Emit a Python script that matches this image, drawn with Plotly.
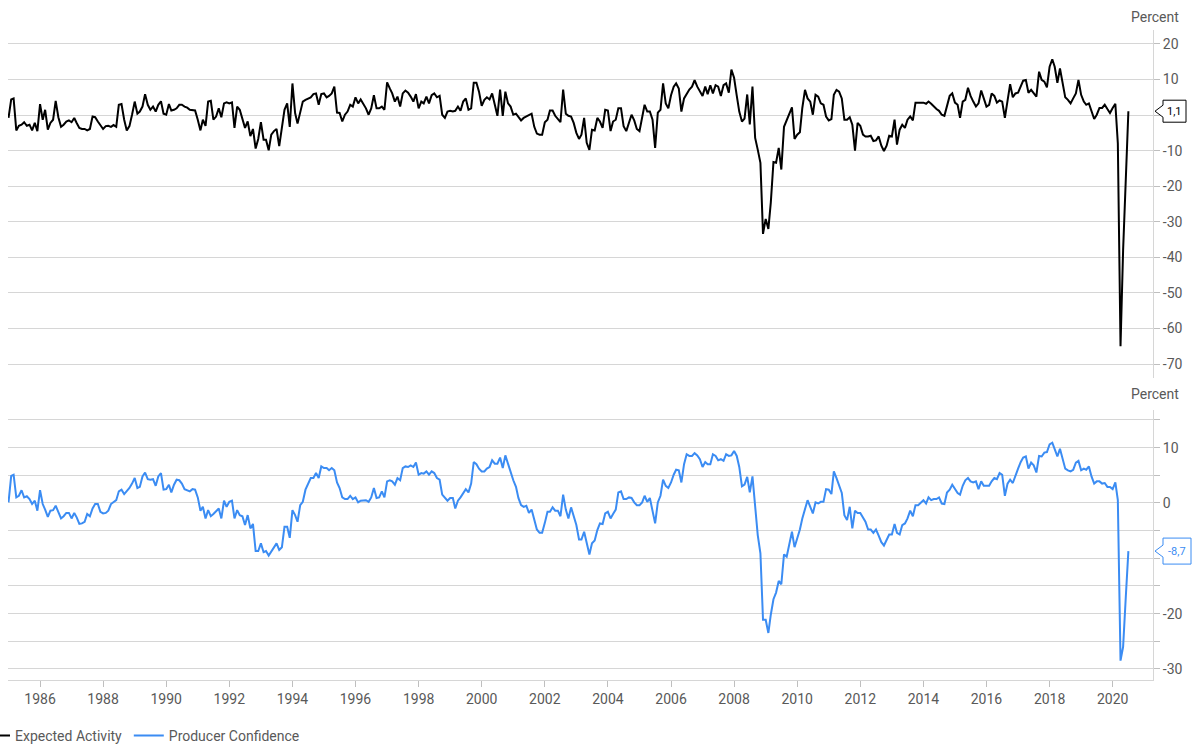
import pandas as pd
import plotly.graph_objects as go

# Monthly observations, Jan 1985 - Jul 2020
start_month = "1985-01-01"

expected_activity = [
    -0.8, 4.4, 4.7, -4.3, -3.0, -2.7, -2.0, -3.0, -2.7, -4.3, -2.2, -4.5,
    3.1, -1.3, 1.5, -4.1, -2.2, -1.3, 4.0, -0.6, -3.3, -2.7, -1.8, -1.5,
    -2.0, -0.8, -2.2, -3.6, -3.9, -3.9, -4.3, -3.9, -0.4, -0.6, -1.8, -3.0,
    -3.9, -3.1, -3.0, -3.3, -2.8, -3.3, 2.9, 3.1, -1.3, -4.3, -3.1, 0.1,
    3.8, 0.4, 1.0, 2.4, 5.9, 2.9, 1.5, 2.4, 1.0, 2.9, 3.9, 0.4,
    0.1, 3.1, 1.3, 1.5, 1.9, 2.9, 2.9, 2.4, 2.1, 1.5, 1.3, 1.3,
    -1.3, -4.3, -1.3, -3.0, 3.8, 4.0, -1.3, -0.4, 1.9, -0.6, 3.3, 3.6,
    3.3, 3.6, -3.6, 2.4, 1.5, -0.8, -3.6, -1.8, -5.9, -3.9, -9.4, -6.7,
    -2.0, -6.9, -6.9, -9.9, -5.5, -4.5, -3.9, -8.7, -3.3, 1.5, 3.3, -3.3,
    8.9, 0.6, -2.4, 0.6, 3.8, 4.3, 4.7, 5.0, 5.9, 6.1, 2.9, 5.9,
    6.1, 5.0, 5.4, 6.1, 8.0, 0.7, 0.6, -1.8, 0.1, 1.0, 2.9, 2.4,
    5.0, 3.3, 4.4, 3.3, 1.9, 0.1, 1.9, 5.6, 1.9, 1.9, 2.4, 1.5,
    9.2, 7.5, 6.1, 3.8, 5.2, 2.4, 6.1, 6.9, 6.3, 5.2, 3.8, 5.9,
    1.9, 3.8, 3.3, 5.2, 3.3, 5.6, 6.1, 5.0, 5.4, 0.1, -0.8, 1.0,
    1.2, 1.0, 1.2, 2.4, 1.2, 3.8, 4.7, 1.5, 1.9, 9.1, 9.1, 6.6,
    2.6, 4.3, 5.0, 4.4, 6.1, 2.9, -0.2, 7.2, -0.2, 6.6, 3.3, 2.4,
    0.1, 0.4, -0.6, -1.5, -0.8, -0.4, 0.1, 0.4, -3.3, -5.2, -5.5, -5.5,
    -2.0, -1.3, 1.3, 1.3, -0.2, -1.3, -2.0, 7.2, 0.4, -0.2, -0.4, -2.2,
    -5.0, -6.7, -5.5, -0.8, -7.8, -9.8, -4.1, -4.3, -0.8, -1.8, -3.6, 1.5,
    1.3, -4.5, -1.8, -1.3, 1.9, 1.9, -3.1, -4.5, -2.2, 0.1, -1.5, -3.9,
    -4.5, -1.1, 2.9, 1.0, 1.0, -1.3, -9.2, 0.7, 1.5, 8.9, 3.3, 1.9,
    5.6, 8.0, 8.9, 7.5, 1.0, 4.7, 6.1, 7.2, 8.0, 9.8, 8.0, 6.9,
    5.4, 8.0, 5.9, 8.4, 6.1, 8.4, 8.0, 5.4, 8.4, 8.9, 6.3, 12.8,
    10.5, 5.5, 1.0, -1.8, -1.0, 5.8, -2.6, 8.0, -6.4, -9.7, -13.4, -33.4,
    -29.2, -32.0, -24.6, -13.2, -13.4, -9.2, -15.3, -3.3, -1.3, 0.1, 2.2, -6.7,
    -5.5, -4.8, 2.0, 7.1, 4.7, 3.8, 0.1, 5.7, 5.2, 3.3, 2.9, -0.4,
    -1.5, -1.1, 5.7, 7.1, 6.6, 4.7, -1.3, -1.3, -0.6, -2.7, -10.0, -2.2,
    -3.0, -5.5, -6.0, -6.0, -5.8, -7.3, -7.1, -6.0, -8.6, -10.1, -8.6, -5.8,
    -6.0, -1.3, -8.3, -4.1, -2.7, -3.6, -1.3, -0.4, -1.5, 3.5, 3.5, 3.3,
    3.5, 3.2, 3.8, 3.2, 2.4, 1.7, 1.2, 0.1, -0.2, 2.9, 5.4, 6.1,
    3.5, 2.9, -0.8, 3.8, 4.3, 7.7, 5.4, 3.8, 2.4, 3.3, 6.9, 4.7,
    2.4, 2.9, 6.1, 5.4, 3.5, 4.1, 3.8, -0.8, 3.8, 8.7, 5.0, 6.1,
    6.3, 8.0, 9.7, 9.9, 6.3, 7.1, 6.3, 5.2, 12.2, 9.9, 9.4, 7.8,
    13.6, 15.7, 13.6, 9.1, 13.1, 8.9, 5.0, 4.3, 3.3, 4.7, 6.1, 9.9,
    5.7, 3.8, 2.9, 3.3, 1.0, -1.1, 0.1, 2.0, 2.0, 2.9, 1.7, 0.6,
    2.0, 3.2, -8.0, -65.0, -38.0, -16.0, 1.1,
]

producer_confidence = [
    0.1, 4.9, 5.1, 1.0, 1.3, 2.3, 1.0, 1.2, 0.7, -0.2, 0.4, -1.4,
    2.3, -0.2, -1.2, -2.5, -1.4, -1.3, -0.5, -1.6, -2.8, -2.4, -1.8, -1.8,
    -2.8, -1.8, -2.6, -3.8, -3.7, -3.4, -2.0, -2.4, -1.0, -0.2, -0.2, -1.6,
    -1.9, -1.8, -1.4, -0.2, 0.2, 0.5, 2.1, 2.4, 1.6, 2.1, 2.7, 3.5,
    4.5, 2.7, 2.9, 4.8, 5.5, 4.3, 4.2, 4.3, 3.1, 4.8, 5.4, 2.4,
    2.5, 3.3, 1.9, 3.3, 4.2, 4.1, 3.5, 2.5, 2.3, 2.1, 2.5, 2.4,
    1.0, -1.4, -0.7, -2.8, -1.3, -2.4, -2.0, -1.4, -1.0, -2.8, 0.4, -0.7,
    0.2, 0.4, -2.8, -1.3, -2.2, -2.4, -4.0, -2.2, -4.6, -3.8, -8.7, -8.7,
    -7.3, -8.9, -8.7, -9.5, -8.7, -8.0, -7.3, -8.5, -8.0, -4.3, -4.3, -6.3,
    -1.3, -2.2, -3.4, -0.4, 0.2, 2.4, 3.5, 4.5, 4.5, 5.4, 4.5, 6.6,
    6.3, 6.3, 5.9, 6.3, 5.9, 3.7, 2.7, 1.0, 0.7, 0.7, 1.3, 0.7,
    1.0, 0.1, 0.4, 0.5, 0.5, 0.2, 1.0, 2.7, 0.9, 1.0, 2.1, 1.0,
    3.9, 4.1, 3.9, 3.3, 4.5, 4.1, 6.3, 6.6, 6.5, 6.8, 6.5, 7.3,
    5.1, 5.4, 5.3, 5.7, 5.1, 5.7, 5.4, 4.5, 4.2, 1.5, 0.9, 0.4,
    0.9, 0.9, -1.0, 0.4, 1.0, 1.8, 2.5, 1.9, 3.5, 7.4, 7.0, 6.2,
    5.7, 5.7, 6.2, 6.5, 7.7, 7.1, 7.1, 8.2, 6.3, 8.6, 7.0, 5.7,
    4.1, 2.9, 0.9, -0.4, -0.7, -0.5, -1.8, -1.2, -3.2, -4.8, -5.4, -5.4,
    -3.6, -1.6, -1.6, -0.8, -1.4, -1.4, -2.4, 1.5, -1.2, -2.8, -0.8, -2.5,
    -4.0, -6.6, -6.6, -5.2, -7.1, -9.3, -7.3, -6.8, -4.9, -3.7, -3.8, -1.9,
    -1.6, -2.8, -2.0, -1.2, 1.9, 2.1, 0.7, 0.7, 1.0, 0.9, 0.1, -0.4,
    -0.4, 0.1, 1.3, 0.2, 0.9, -1.3, -3.7, 0.1, 1.3, 4.2, 3.1, 2.7,
    3.7, 5.1, 6.0, 5.9, 3.7, 7.0, 8.8, 8.5, 8.5, 9.0, 8.6, 7.9,
    6.5, 7.4, 7.0, 7.0, 8.8, 8.5, 7.7, 7.9, 7.6, 8.8, 8.5, 8.6,
    9.4, 8.5, 6.5, 3.0, 3.3, 4.7, 1.9, 4.8, -0.8, -5.8, -9.1, -21.1,
    -21.1, -23.5, -20.2, -17.4, -16.2, -14.1, -14.7, -9.3, -9.7, -7.3, -5.2, -8.0,
    -6.5, -4.8, -2.8, -1.3, 0.5, -0.7, -1.9, 0.1, -0.1, 0.2, 0.2, 2.5,
    2.4, 1.6, 5.7, 4.5, 3.0, 1.8, -2.2, -3.1, -0.7, -4.6, -1.4, -1.8,
    -1.8, -2.6, -3.4, -4.8, -4.8, -5.4, -4.8, -5.9, -7.1, -7.7, -6.8, -5.7,
    -5.7, -3.8, -5.4, -5.7, -4.0, -3.7, -2.8, -1.4, -2.4, -0.4, -0.4, 0.1,
    0.5, -0.1, 1.0, 0.5, 0.7, 0.7, 1.0, -0.1, -0.2, 1.9, 2.4, 3.3,
    2.5, 1.8, 1.5, 3.1, 4.1, 4.5, 3.9, 3.7, 3.9, 2.5, 3.9, 3.1,
    3.1, 3.1, 3.9, 4.5, 4.3, 5.4, 5.1, 1.3, 3.5, 4.2, 3.6, 5.1,
    6.2, 7.4, 8.2, 8.4, 6.2, 7.3, 6.8, 5.5, 8.5, 8.4, 9.1, 9.2,
    10.6, 10.9, 9.8, 8.4, 9.8, 8.0, 6.2, 5.9, 5.7, 6.0, 7.3, 7.6,
    5.9, 6.2, 6.0, 6.6, 4.8, 3.5, 3.9, 3.9, 3.5, 3.6, 2.9, 2.9,
    2.5, 3.7, 0.5, -28.5, -26.0, -17.0, -8.7,
]

top_ticks = [-70, -60, -50, -40, -30, -20, -10, 0, 10, 20]
top_ticktext = ["-70", "-60", "-50", "-40", "-30", "-20", "-10", "", "10", "20"]
bottom_ticks = [-30, -25, -20, -15, -10, -5, 0, 5, 10, 15]
bottom_ticktext = ["-30", "", "-20", "", "", "", "0", "", "10", ""]
year_ticks = [f"{y}-01-01" for y in range(1986, 2021, 2)]

dates = pd.date_range(start_month, periods=len(expected_activity), freq="MS")

BLUE = "#3b8cf3"
GRID = "#d6d6d6"
TXT = "#595959"
FONT = "Roboto, sans-serif"
FS = 14

# layout geometry (pixels)
W, H = 1192, 745
ML, MR, MT, MB = 8, 39, 30, 65
PW = W - ML - MR
TOP_RANGE = [-73.93, 23.93]
BOT_RANGE = [-32.0, 16.8]
TOP_DOM = [0.4646, 1.0]
BOT_DOM = [0.0, 0.4154]
PH = H - MT - MB

fig = go.Figure()
fig.add_trace(go.Scatter(x=dates, y=expected_activity, name="Expected Activity",
                         mode="lines", line=dict(color="black", width=2),
                         xaxis="x", yaxis="y", hoverinfo="skip", legend="legend"))
fig.add_trace(go.Scatter(x=dates, y=producer_confidence, name="Producer Confidence",
                         mode="lines", line=dict(color=BLUE, width=2),
                         xaxis="x2", yaxis="y2", hoverinfo="skip", legend="legend2"))

xr = ["1984-12-26", "2021-04-12"]
axis_common = dict(side="right", showgrid=True, gridcolor=GRID, gridwidth=1,
                   showline=True, linecolor=GRID, linewidth=1,
                   ticks="outside", ticklen=6, tickcolor="#bfbfbf",
                   zeroline=False, tickfont=dict(family=FONT, size=FS, color=TXT))
legend_common = dict(orientation="h", xanchor="left", y=-0.086, yanchor="middle",
                     font=dict(family=FONT, size=FS, color=TXT),
                     bgcolor="rgba(0,0,0,0)", itemwidth=30)

fig.update_layout(
    width=W, height=H,
    margin=dict(l=ML, r=MR, t=MT, b=MB, autoexpand=False),
    paper_bgcolor="white", plot_bgcolor="white",
    font=dict(family=FONT, size=FS, color=TXT),
    xaxis=dict(domain=[0, 1], range=xr, anchor="y", showticklabels=False,
               showgrid=False, showline=False, ticks="", zeroline=False),
    yaxis=dict(domain=TOP_DOM, range=TOP_RANGE,
               tickvals=top_ticks, ticktext=top_ticktext, **axis_common),
    xaxis2=dict(domain=[0, 1], range=xr, anchor="y2", matches="x",
                tickvals=year_ticks, tickformat="%Y", ticks="outside", ticklen=6,
                tickcolor="#bfbfbf", showline=True, linecolor=GRID, showgrid=False,
                zeroline=False, tickfont=dict(family=FONT, size=FS, color=TXT)),
    yaxis2=dict(domain=BOT_DOM, range=BOT_RANGE,
                tickvals=bottom_ticks, ticktext=bottom_ticktext, **axis_common),
    legend=dict(x=-0.0288, **legend_common),
    legend2=dict(x=0.1055, **legend_common),
    showlegend=True,
)


def px_to_paper_x(px):
    return (px - ML) / PW


def units_per_px(rng, dom):
    return (rng[1] - rng[0]) / ((dom[1] - dom[0]) * PH)


# value callouts on the right axis
callouts = [
    dict(yref="y", val=expected_activity[-1], color="black", left=1163, right=1186,
         half=11, upp=units_per_px(TOP_RANGE, TOP_DOM)),
    dict(yref="y2", val=producer_confidence[-1], color=BLUE, left=1163, right=1191,
         half=13, upp=units_per_px(BOT_RANGE, BOT_DOM)),
]
for c in callouts:
    v, u = c["val"], c["upp"]
    tip = px_to_paper_x(1155)
    xl = px_to_paper_x(c["left"])
    xr_ = px_to_paper_x(c["right"])
    yt, yb = v + c["half"] * u, v - c["half"] * u
    pt, pb = v + 6 * u, v - 6 * u
    path = (f"M {tip},{v} L {xl},{pt} L {xl},{yt} L {xr_},{yt} "
            f"L {xr_},{yb} L {xl},{yb} L {xl},{pb} Z")
    fig.add_shape(type="path", xref="paper", yref=c["yref"], path=path,
                  line=dict(color=c["color"], width=1), fillcolor="white", layer="above")
    fig.add_annotation(xref="paper", yref=c["yref"], x=(xl + xr_) / 2, y=v,
                       xanchor="center", yanchor="middle", showarrow=False,
                       text=f"{v:.1f}".replace(".", ","),
                       font=dict(family=FONT, size=11, color=c["color"]))

for ypos in [1.02, 0.44]:
    fig.add_annotation(xref="paper", yref="paper", x=px_to_paper_x(1155), y=ypos,
                       showarrow=False, text="Percent", xanchor="center", yanchor="middle",
                       font=dict(family=FONT, size=FS, color=TXT))

fig.write_html("out.html", config={"displayModeBar": False},
               post_script="document.body.style.margin='0';")
